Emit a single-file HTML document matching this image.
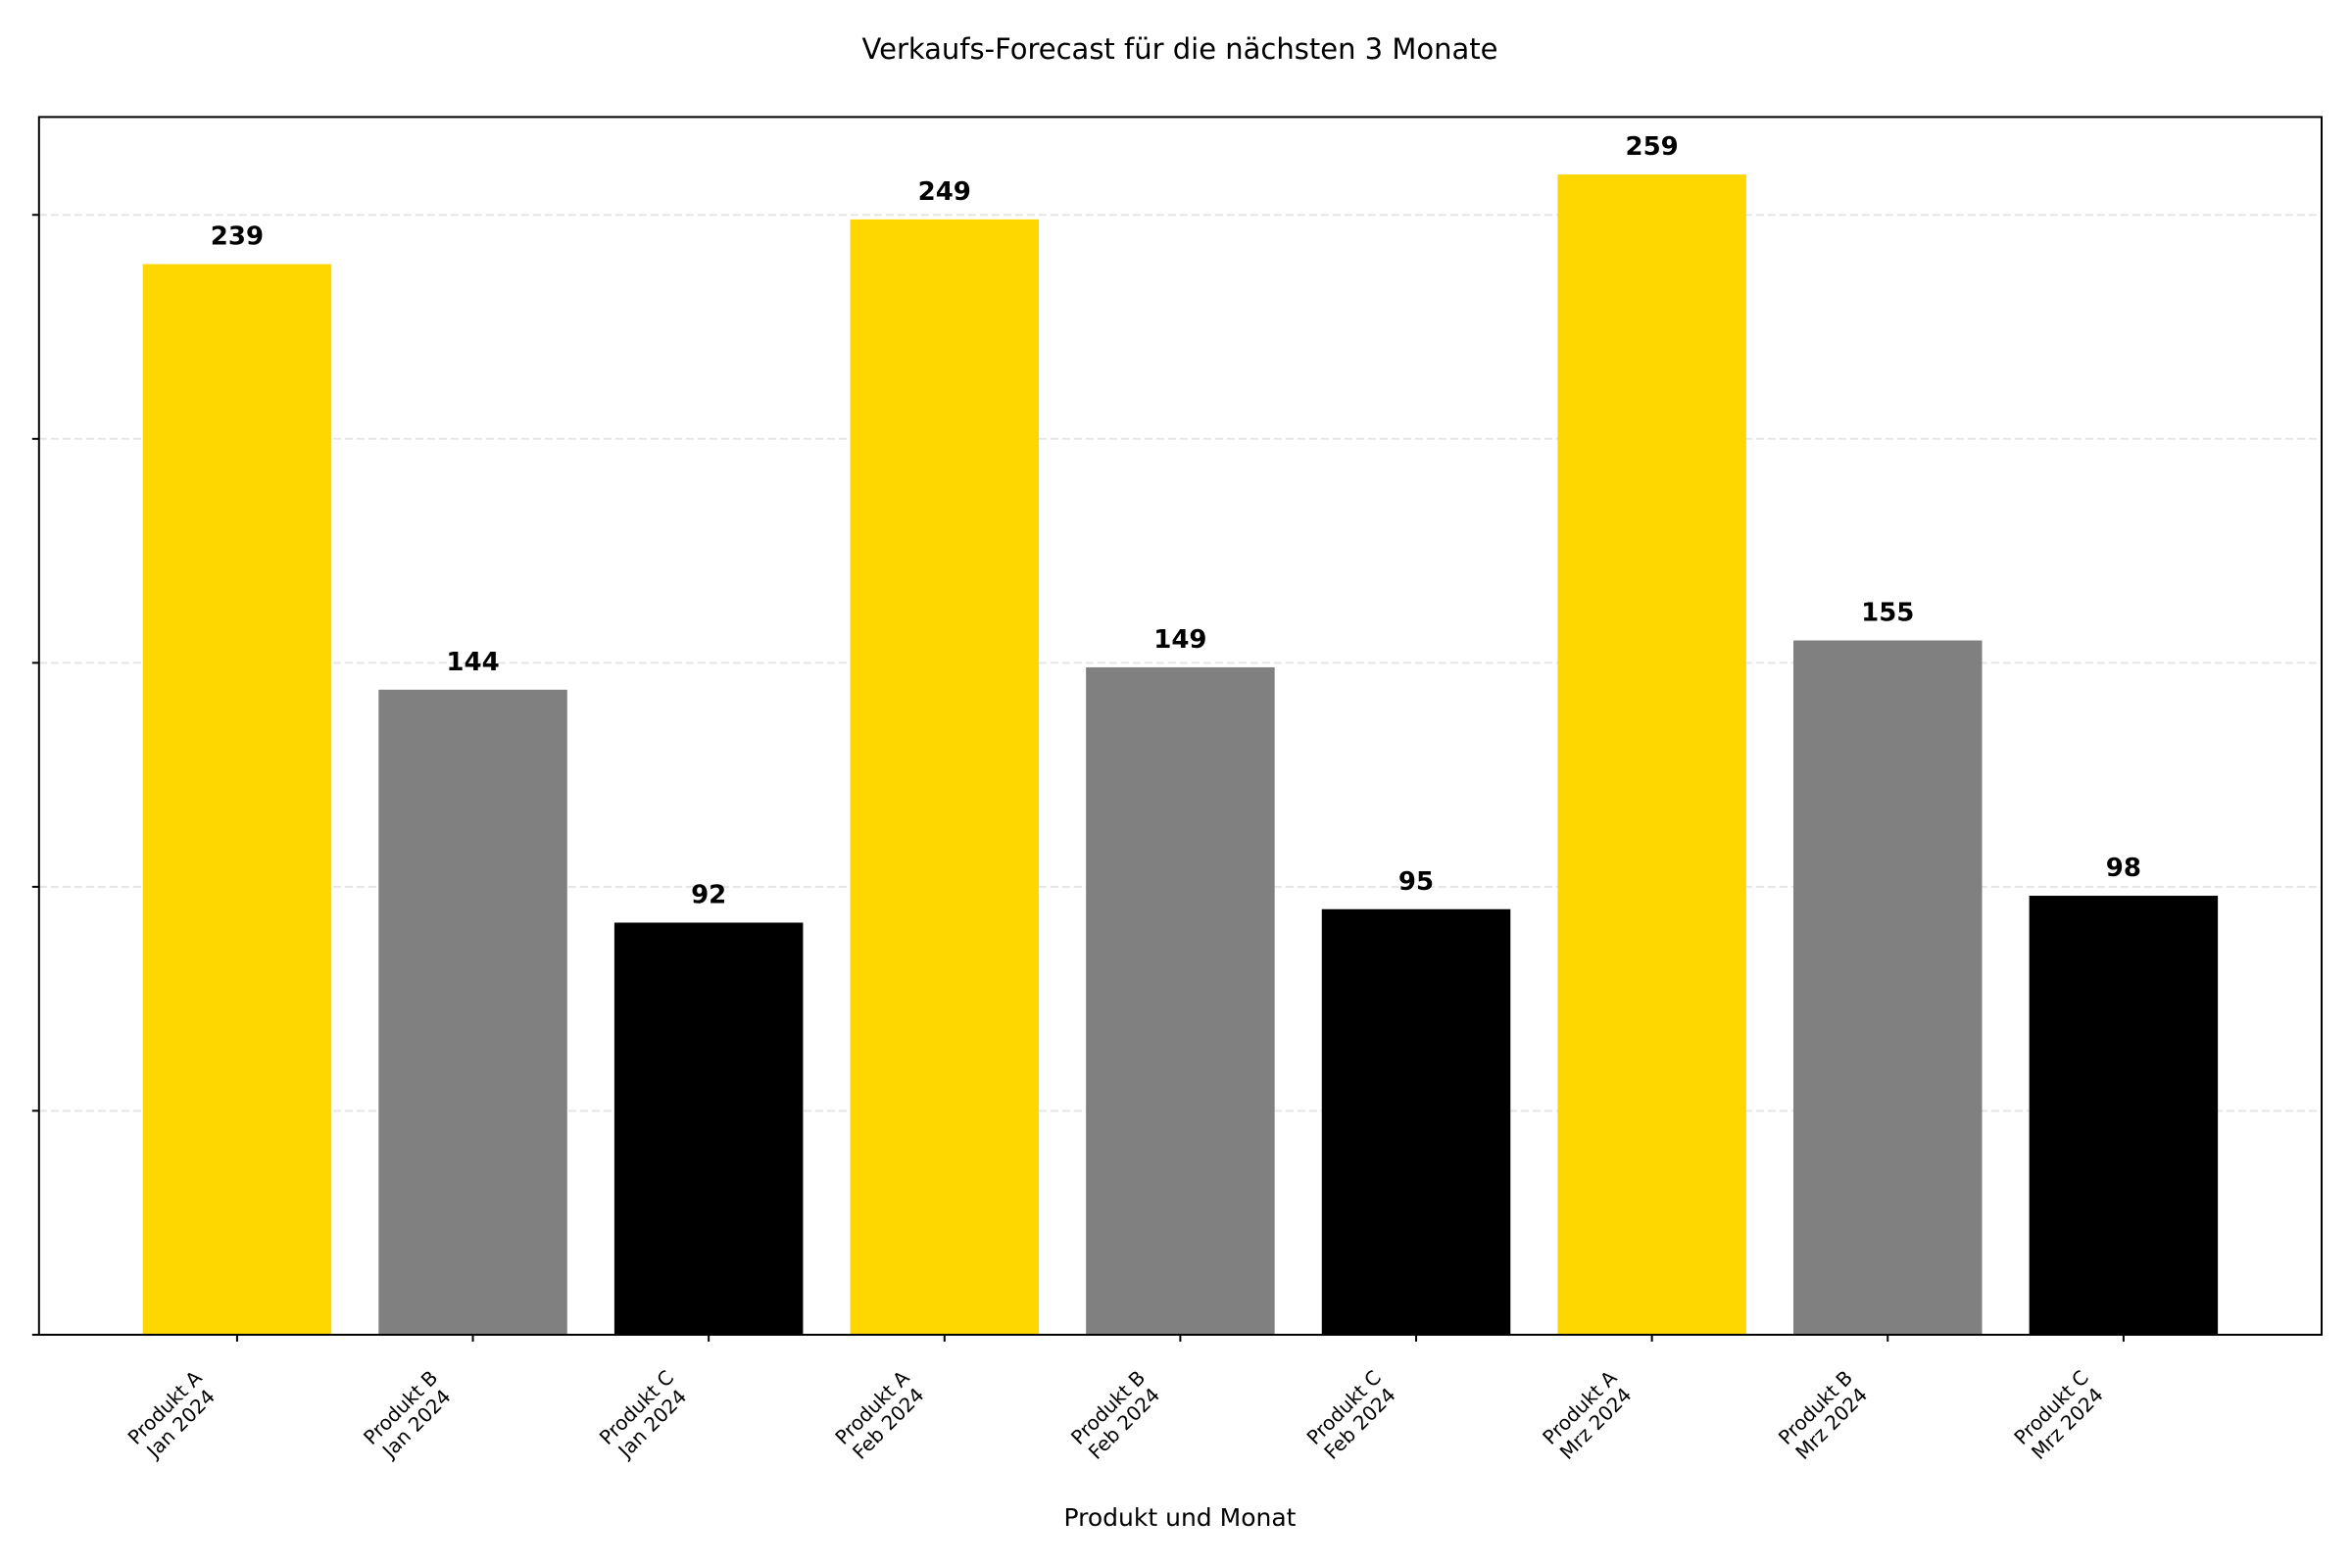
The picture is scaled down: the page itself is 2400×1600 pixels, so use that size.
<!DOCTYPE html>
<html><head><meta charset="utf-8"><style>
html,body{margin:0;padding:0;background:#fff;}
svg{display:block;font-family:"DejaVu Sans","Liberation Sans",sans-serif;}
</style></head><body>
<svg id="chart" width="2400" height="1600" viewBox="0 0 2400 1600">
<text x="1204" y="60" text-anchor="middle" font-size="29" fill="#000">Verkaufs-Forecast für die nächsten 3 Monate</text>
<g id="grid"></g><g id="bars"></g><g id="labels"></g><g id="ticks"></g>
<rect x="39.8" y="119.4" width="2329.2" height="1242.6" fill="none" stroke="#000" stroke-width="2"/>
<text x="1204" y="1557" text-anchor="middle" font-size="25" fill="#000">Produkt und Monat</text>
</svg>
<script>
const products = ["Produkt A","Produkt B","Produkt C","Produkt A","Produkt B","Produkt C","Produkt A","Produkt B","Produkt C"];
const months = ["Jan 2024","Jan 2024","Jan 2024","Feb 2024","Feb 2024","Feb 2024","Mrz 2024","Mrz 2024","Mrz 2024"];
const values = [239,144,92,249,149,95,259,155,98];
const colors = ["#FFD700","#808080","#000000","#FFD700","#808080","#000000","#FFD700","#808080","#000000"];
const yTicks = [0,50,100,150,200,250];

const NS="http://www.w3.org/2000/svg";
const L=39.8,R=2369,T=119.4,B=1362;
const xmin=-0.84,xmax=8.84;
const ymax=(B-T)/4.571;
const xs=v=>L+(v-xmin)/(xmax-xmin)*(R-L);
const ys=v=>B-v/ymax*(B-T);
function mk(tag,attrs){const e=document.createElementNS(NS,tag);for(const k in attrs)e.setAttribute(k,attrs[k]);return e;}
const grid=document.getElementById('grid'),bars=document.getElementById('bars'),labels=document.getElementById('labels'),ticks=document.getElementById('ticks');
yTicks.forEach(t=>{
  const y=ys(t);
  const g=mk('line',{x1:L,x2:R,y1:y,y2:y,stroke:'#000','stroke-opacity':0.1,'stroke-width':2,'stroke-dasharray':'8,4'});
  
  
  grid.appendChild(g);
  const tk=mk('line',{x1:L-7,x2:L,y1:y,y2:y,stroke:'#000','stroke-width':2});
  
  
  ticks.appendChild(tk);
});
const bw=0.8*(xs(1)-xs(0));
values.forEach((v,i)=>{
  const cx=xs(i);
  const r=mk('rect',{x:cx-bw/2,y:ys(v),width:bw,height:B-ys(v),fill:colors[i]});
  
  
  bars.appendChild(r);
  const t=mk('text',{x:cx,y:ys(v)-20,'text-anchor':'middle','font-size':26,'font-weight':'bold',fill:'#000'});
  t.textContent=v;
  
  
  labels.appendChild(t);
  const tk=mk('line',{x1:cx,x2:cx,y1:B,y2:B+7,stroke:'#000','stroke-width':2});
  
  
  ticks.appendChild(tk);
  const g=mk('g',{transform:`translate(${cx-66},${1444}) rotate(-45)`});
  
  
  const t1=mk('text',{x:0,y:-4,'text-anchor':'middle','font-size':20,fill:'#000'});t1.textContent=products[i];
  const t2=mk('text',{x:0,y:19,'text-anchor':'middle','font-size':20,fill:'#000'});t2.textContent=months[i];
  g.appendChild(t1);g.appendChild(t2);
  ticks.appendChild(g);
});
</script>
</body></html>
